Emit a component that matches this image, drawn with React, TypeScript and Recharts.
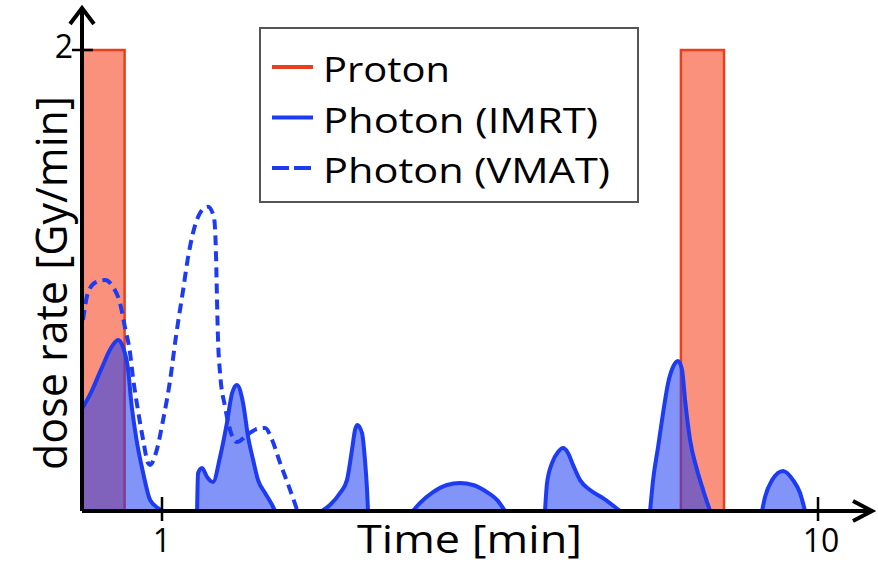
import React from 'react';
import { ComposedChart, Area, Line, XAxis, YAxis, Legend } from 'recharts';

// Proton delivery: two beam-on windows at full dose rate
const protonStart = [0.7552, 6.18];
const protonEnd = [0.877, 7.19];
const protonRate = [2, 2];

// Photon IMRT: dose-rate pulses (null separates the pulses)
const imrtTime = [
  0.7552, 0.779, 0.807, 0.836, 0.857, 0.872, 0.888, 0.897, 0.913, 0.936, 0.959, 0.986, 1.004,
  1.06,
  1.131, 1.135, 1.151, 1.171, 1.196, 1.226, 1.256, 1.279, 1.301, 1.329, 1.353, 1.377, 1.401, 1.436, 1.472, 1.487,
  1.6,
  1.754, 1.803, 1.868, 1.914, 1.948, 1.969, 1.983, 2.018, 2.039, 2.054, 2.061,
  2.2,
  2.413, 2.474, 2.589, 2.719, 2.846, 2.979, 3.129, 3.241, 3.333,
  3.6,
  3.836, 3.863, 3.931, 4.015, 4.086, 4.158, 4.232, 4.338, 4.493, 4.702, 4.991,
  5.2,
  5.546, 5.605, 5.704, 5.805, 5.908, 6.012, 6.119, 6.205, 6.271, 6.382, 6.541, 6.681, 6.847,
  7.5,
  8.216, 8.303, 8.511, 8.846, 9.161, 9.389, 9.555,
];
const imrtRate: (number | null)[] = [
  0.443, 0.512, 0.612, 0.707, 0.742, 0.711, 0.612, 0.482, 0.321, 0.165, 0.048, 0.013, 0,
  null,
  0, 0.165, 0.187, 0.148, 0.126, 0.234, 0.382, 0.512, 0.547, 0.469, 0.321, 0.221, 0.134, 0.078, 0.026, 0,
  null,
  0, 0.026, 0.078, 0.134, 0.265, 0.351, 0.373, 0.338, 0.221, 0.091, 0,
  null,
  0, 0.035, 0.082, 0.113, 0.121, 0.113, 0.082, 0.048, 0,
  null,
  0, 0.121, 0.208, 0.256, 0.273, 0.252, 0.2, 0.134, 0.091, 0.056, 0,
  null,
  0, 0.134, 0.278, 0.425, 0.555, 0.625, 0.651, 0.612, 0.482, 0.308, 0.178, 0.091, 0,
  null,
  0, 0.061, 0.134, 0.174, 0.134, 0.078, 0,
];

// Photon VMAT: continuous arc delivery
const vmatTime = [
  0.758, 0.771, 0.793, 0.819, 0.842, 0.863, 0.878, 0.894, 0.903, 0.919, 0.936, 0.952, 0.959,
  0.979, 1.004, 1.029, 1.05, 1.077, 1.096, 1.115, 1.143, 1.175, 1.2, 1.209, 1.213, 1.217,
  1.226, 1.248, 1.27, 1.301, 1.348, 1.396, 1.436, 1.472, 1.514, 1.568, 1.607,
];
const vmatRate = [
  0.829, 0.946, 0.993, 1.002, 0.972, 0.902, 0.798, 0.685, 0.581, 0.438, 0.308, 0.208, 0.2,
  0.252, 0.395, 0.568, 0.755, 0.959, 1.102, 1.206, 1.293, 1.32, 1.275, 1.102, 0.915, 0.755,
  0.599, 0.451, 0.351, 0.299, 0.33, 0.356, 0.36, 0.308, 0.208, 0.091, 0.004,
];

const xTicks = [1, 10];
const yTicks = [2];
const X_MIN = 0.7552;
const X_MAX = 12.086;
const Y_MAX = 2.1822;

const legendItems = [
  { name: 'Proton', kind: 'proton' },
  { name: 'Photon (IMRT)', kind: 'imrt' },
  { name: 'Photon (VMAT)', kind: 'vmat' },
];

const FONT = '"Open Sans", "DejaVu Sans", sans-serif';
const RED = '#ea3f1c';
const SALMON = '#f9917c';
const BLUE = '#1d3cf2';
const INK = '#000';

type Pt = { t: number; v: number | null };

const protonData: Pt[] = protonStart.flatMap((s, i) => {
  const e = protonEnd[i];
  const r = protonRate[i];
  const pts: Pt[] = [
    { t: s, v: 0 },
    { t: s, v: r },
    { t: e, v: r },
    { t: e, v: 0 },
  ];
  if (i < protonStart.length - 1) pts.push({ t: (e + protonStart[i + 1]) / 2, v: null });
  return pts;
});
const imrtData: Pt[] = imrtTime.map((t, i) => ({ t, v: imrtRate[i] }));
const vmatData: Pt[] = vmatTime.map((t, i) => ({ t, v: vmatRate[i] }));

const legendWidths: Record<string, number> = { proton: 127, imrt: 275, vmat: 287 };

const LegendBox = () => (
  <svg width={380} height={176} style={{ display: 'block' }}>
    <rect x={1} y={1} width={378} height={174} fill="#fff" stroke="#555" strokeWidth={2} />
    {legendItems.map((it, i) => {
      const cy = 40 + i * 50.5;
      const color = it.kind === 'proton' ? RED : BLUE;
      return (
        <g key={it.name}>
          <line
            x1={13}
            x2={54}
            y1={cy}
            y2={cy}
            stroke={color}
            strokeWidth={4}
            strokeDasharray={it.kind === 'vmat' ? '17 5' : undefined}
          />
          <text
            x={64}
            y={cy + 15}
            fontFamily={FONT}
            fontSize={35}
            fill={INK}
            textLength={legendWidths[it.kind]}
            lengthAdjust="spacingAndGlyphs"
          >
            {it.name}
          </text>
        </g>
      );
    })}
  </svg>
);

const renderXTick = (props: any) => {
  const { x, y, payload } = props;
  return (
    <g>
      <line x1={x} x2={x} y1={y - 14} y2={y + 10} stroke="#000" strokeWidth={2.5} />
      <text x={x + (payload.value >= 10 ? 3 : 0)} y={y + 41} textAnchor="middle" fontFamily={FONT} fontSize={32} fill={INK}>
        {payload.value}
      </text>
    </g>
  );
};

const renderYTick = (props: any) => {
  const { x, y, payload } = props;
  return (
    <g>
      <line x1={x - 10} x2={x + 11} y1={y} y2={y} stroke="#000" strokeWidth={2.5} />
      <text x={x - 9} y={y + 8} textAnchor="end" fontFamily={FONT} fontSize={32} fill={INK}>
        {payload.value}
      </text>
    </g>
  );
};

const renderXLabel = () => (
  <text
    x={469.5}
    y={553}
    textAnchor="middle"
    fontFamily={FONT}
    fontSize={39}
    fill={INK}
    textLength={225}
    lengthAdjust="spacingAndGlyphs"
  >
    Time [min]
  </text>
);

const renderYLabel = () => (
  <text
    x={0}
    y={0}
    transform="translate(67, 283) rotate(-90)"
    textAnchor="middle"
    fontFamily={FONT}
    fontSize={44}
    fill={INK}
    textLength={374}
    lengthAdjust="spacingAndGlyphs"
  >
    dose rate [Gy/min]
  </text>
);

export default function App() {
  return (
    <div style={{ position: 'absolute', left: 0, top: 0, width: 878, height: 564, background: '#fff' }}>
      <ComposedChart width={878} height={564} margin={{ top: 8, right: 6, bottom: 0, left: 0 }}>
        <defs>
          <marker
            id="arrowX"
            markerUnits="userSpaceOnUse"
            markerWidth={26}
            markerHeight={28}
            viewBox="0 0 26 28"
            refX={22}
            refY={14}
            orient="auto"
            style={{ overflow: 'visible' }}
          >
            <path d="M3,4 L22,14 L3,24" fill="none" stroke="#000" strokeWidth={4} />
          </marker>
          <marker
            id="arrowY"
            markerUnits="userSpaceOnUse"
            markerWidth={26}
            markerHeight={30}
            viewBox="0 0 26 30"
            refX={20}
            refY={15}
            orient="auto-start-reverse"
            style={{ overflow: 'visible' }}
          >
            <path d="M4,3 L20,15 L4,27" fill="none" stroke="#000" strokeWidth={4} />
          </marker>
        </defs>
        <XAxis
          dataKey="t"
          type="number"
          scale="log"
          domain={[X_MIN, X_MAX]}
          allowDataOverflow
          ticks={xTicks}
          height={53}
          tickSize={0}
          tickMargin={0}
          tickLine={false}
          tick={renderXTick}
          axisLine={{ stroke: '#000', strokeWidth: 4, markerEnd: 'url(#arrowX)' }}
          label={{ content: renderXLabel }}
        />
        <YAxis
          type="number"
          domain={[0, Y_MAX]}
          allowDataOverflow
          ticks={yTicks}
          width={82}
          tickSize={0}
          tickMargin={0}
          tickLine={false}
          tick={renderYTick}
          axisLine={{ stroke: '#000', strokeWidth: 4, markerStart: 'url(#arrowY)' }}
          label={{ content: renderYLabel }}
        />
        <Legend
          layout="horizontal"
          verticalAlign="middle"
          align="center"
          content={<LegendBox />}
          wrapperStyle={{ position: 'absolute', left: 259, top: 27, width: 380, height: 176 }}
        />
        <Area
          data={protonData}
          dataKey="v"
          type="linear"
          stroke={RED}
          strokeWidth={2.5}
          fill={SALMON}
          fillOpacity={1}
          isAnimationActive={false}
          connectNulls={false}
          dot={false}
          activeDot={false}
        />
        <Area
          data={imrtData}
          dataKey="v"
          type="monotone"
          stroke={BLUE}
          strokeWidth={4}
          fill={BLUE}
          fillOpacity={0.55}
          isAnimationActive={false}
          connectNulls={false}
          dot={false}
          activeDot={false}
        />
        <Line
          data={vmatData}
          dataKey="v"
          type="monotone"
          stroke={BLUE}
          strokeWidth={4}
          strokeDasharray="10 6"
          isAnimationActive={false}
          dot={false}
          activeDot={false}
        />
      </ComposedChart>
    </div>
  );
}
